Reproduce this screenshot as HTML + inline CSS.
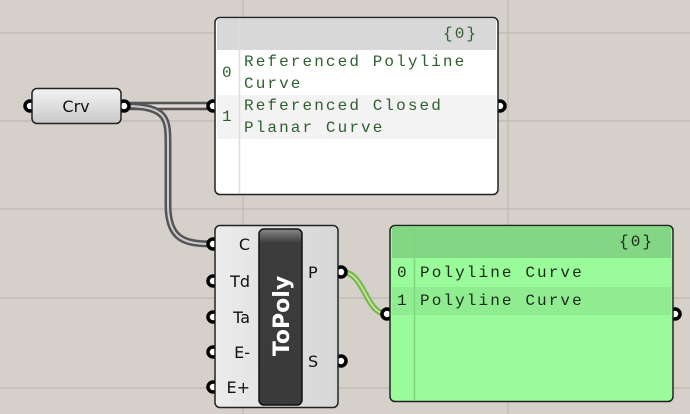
<!DOCTYPE html>
<html><head><meta charset="utf-8"><style>
html,body{margin:0;padding:0;width:690px;height:414px;overflow:hidden;background:#d5d1ca}
svg{display:block}
.m{font-family:"Liberation Mono",monospace;font-size:16px;letter-spacing:2.1px}
.s{font-family:"DejaVu Sans","Liberation Sans",sans-serif}
</style></head><body>
<svg width="690" height="414" viewBox="0 0 690 414" xmlns="http://www.w3.org/2000/svg">
<defs>
<linearGradient id="g1" x1="0" y1="0" x2="0" y2="1"><stop offset="0" stop-color="#f4f4f4"/><stop offset="1" stop-color="#c8c8c8"/></linearGradient>
<linearGradient id="g2" x1="0" y1="0" x2="1" y2="0"><stop offset="0" stop-color="#ececec"/><stop offset="1" stop-color="#d6d6d6"/></linearGradient>
<linearGradient id="g3" x1="0" y1="0" x2="0" y2="1"><stop offset="0" stop-color="#8a8a8a"/><stop offset="0.08" stop-color="#3c3c3c"/><stop offset="1" stop-color="#3a3a3a"/></linearGradient>
</defs>
<g stroke="#bdb9b2" stroke-width="1.2">
<line x1="0" y1="33" x2="690" y2="33"/><line x1="0" y1="121" x2="690" y2="121"/>
<line x1="0" y1="209" x2="690" y2="209"/><line x1="0" y1="298" x2="690" y2="298"/>
<line x1="0" y1="388" x2="690" y2="388"/>
<line x1="243" y1="0" x2="243" y2="414"/><line x1="508" y1="0" x2="508" y2="414"/>
</g>
<g fill="none">
<path d="M124 103 L211 103" stroke="#555" stroke-width="2.5"/>
<path d="M124 109 L211 109" stroke="#555" stroke-width="2.5"/>
<path d="M124 106 L211 106" stroke="#ddd" stroke-width="1.5"/>
<path d="M124 106 C170 106 168 120 168 150 L168 205 C168 240 185 244 213 244" stroke="#555" stroke-width="7"/>
<path d="M124 106 C170 106 168 120 168 150 L168 205 C168 240 185 244 213 244" stroke="#ccc" stroke-width="2"/>
<path d="M342 272 C365 272 365 314 387 314" stroke="#7bb84a" stroke-width="6"/>
<path d="M342 272 C365 272 365 314 387 314" stroke="#cfe8b8" stroke-width="1.5"/>
</g>
<g stroke="#000" stroke-width="3.5" fill="#fff">
<circle cx="30" cy="106" r="5"/><circle cx="124" cy="106" r="5"/>
</g>
<rect x="32" y="88.5" width="89" height="35" rx="5" fill="url(#g1)" stroke="#222" stroke-width="1.5"/>
<text x="76" y="112" class="s" font-size="16" text-anchor="middle" fill="#111">Crv</text>
<g stroke="#000" stroke-width="3.5" fill="#fff">
<circle cx="213" cy="106" r="5"/><circle cx="500" cy="106" r="5"/>
</g>
<rect x="215" y="17.5" width="283" height="177" rx="5" fill="#fff" stroke="#222" stroke-width="1.5"/>
<rect x="217" y="19" width="279" height="31" fill="#d8d8d8"/>
<rect x="217" y="95" width="279" height="44" fill="#f3f3f3"/>
<line x1="239.5" y1="19" x2="239.5" y2="193" stroke="#ddd" stroke-width="1.5"/>
<g class="m" fill="#2f5f2f">
<text x="443" y="38">{0}</text>
<text x="222" y="77">0</text><text x="222" y="121">1</text>
<text x="244" y="66">Referenced Polyline</text><text x="244" y="88">Curve</text>
<text x="244" y="110">Referenced Closed</text><text x="244" y="132">Planar Curve</text>
</g>
<g stroke="#000" stroke-width="3.5" fill="#fff">
<circle cx="213" cy="244" r="5"/><circle cx="213" cy="281" r="5"/><circle cx="213" cy="317" r="5"/><circle cx="213" cy="352" r="5"/><circle cx="213" cy="387" r="5"/>
<circle cx="341" cy="272" r="5"/><circle cx="341" cy="361" r="5"/>
</g>
<rect x="215" y="225.5" width="123" height="182" rx="5" fill="url(#g2)" stroke="#222" stroke-width="1.5"/>
<rect x="259" y="229" width="43" height="176" rx="5" fill="url(#g3)" stroke="#111" stroke-width="1.5"/>
<g class="s" font-size="16" fill="#111">
<text x="250" y="250" text-anchor="end">C</text>
<text x="250" y="287" text-anchor="end">Td</text>
<text x="250" y="323" text-anchor="end">Ta</text>
<text x="250" y="358" text-anchor="end">E-</text>
<text x="250" y="393" text-anchor="end">E+</text>
<text x="308" y="278">P</text>
<text x="308" y="367">S</text>
</g>
<text transform="translate(289 316) rotate(-90)" class="s" font-size="22" font-weight="bold" fill="#fff" text-anchor="middle">ToPoly</text>
<g stroke="#000" stroke-width="3.5" fill="#fff">
<circle cx="387" cy="314" r="5"/><circle cx="675" cy="314" r="5"/>
</g>
<rect x="390" y="225.5" width="283" height="176" rx="5" fill="#99fb99" stroke="#222" stroke-width="1.5"/>
<rect x="392" y="227" width="279" height="31" fill="#83d683"/>
<rect x="392" y="287" width="279" height="28" fill="#90ec90"/>
<line x1="414.5" y1="227" x2="414.5" y2="400" stroke="#80d480" stroke-width="1.5"/>
<g class="m" fill="#1c2a1c">
<text x="619" y="246">{0}</text>
<text x="397" y="277">0</text><text x="397" y="305">1</text>
<text x="420" y="277">Polyline Curve</text><text x="420" y="305">Polyline Curve</text>
</g>
</svg>
</body></html>
